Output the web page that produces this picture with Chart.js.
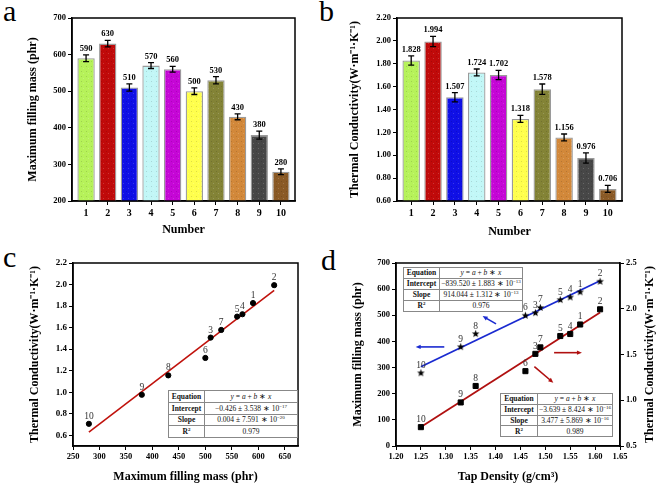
<!DOCTYPE html>
<html>
<head>
<meta charset="utf-8">
<script src="https://cdn.jsdelivr.net/npm/chart.js@4.4.1/dist/chart.umd.min.js"></script>
<style>
body { margin: 0; background: #fff; width: 661px; height: 486px; position: relative; overflow: hidden; font-family: "Liberation Serif", "Times New Roman", serif; }
canvas { position: absolute; }
.letter { position: absolute; font-size: 30px; line-height: 30px; color: #000; }
table.fit { position: absolute; border-collapse: collapse; background: #fff; table-layout: fixed; font-size: 7.5px; color: #111; }
table.fit td { border: 1px solid #888; padding: 0; text-align: center; white-space: nowrap; overflow: hidden; line-height: 9px; }
table.fit td.k { font-weight: bold; }
table.fit sup { font-size: 5px; vertical-align: 3px; line-height: 0; }
</style>
</head>
<body>
<div class="letter" style="left:3px;top:-4px">a</div>
<div class="letter" style="left:319px;top:-4px">b</div>
<div class="letter" style="left:3px;top:242px">c</div>
<div class="letter" style="left:321px;top:245px">d</div>

<canvas id="chartA" width="330" height="240" style="left:0;top:0"></canvas>
<canvas id="chartB" width="331" height="240" style="left:330px;top:0"></canvas>
<canvas id="chartC" width="330" height="246" style="left:0;top:240px"></canvas>
<canvas id="chartD" width="331" height="246" style="left:330px;top:240px"></canvas>

<table class="fit" style="left:168px;top:390px;width:130px">
  <colgroup><col style="width:36px"><col></colgroup>
  <tr style="height:11.8px"><td class="k">Equation</td><td><i>y</i> = <i>a</i> + <i>b</i> ∗ <i>x</i></td></tr>
  <tr style="height:11.8px"><td class="k">Intercept</td><td>−0.426 ± 3.538 ∗ 10<sup>−17</sup></td></tr>
  <tr style="height:11.8px"><td class="k">Slope</td><td>0.004 ± 7.591 ∗ 10<sup>−20</sup></td></tr>
  <tr style="height:11.8px"><td class="k">R<sup>2</sup></td><td>0.979</td></tr>
</table>
<table class="fit" style="left:403px;top:267px;width:120px">
  <colgroup><col style="width:36px"><col></colgroup>
  <tr style="height:10.9px"><td class="k">Equation</td><td><i>y</i> = <i>a</i> + <i>b</i> ∗ <i>x</i></td></tr>
  <tr style="height:10.9px"><td class="k">Intercept</td><td>−839.520 ± 1.883 ∗ 10<sup>−13</sup></td></tr>
  <tr style="height:10.9px"><td class="k">Slope</td><td>914.044 ± 1.312 ∗ 10<sup>−13</sup></td></tr>
  <tr style="height:10.9px"><td class="k">R<sup>2</sup></td><td>0.976</td></tr>
</table>
<table class="fit" style="left:500px;top:393px;width:113px">
  <colgroup><col style="width:37px"><col></colgroup>
  <tr style="height:10.8px"><td class="k">Equation</td><td><i>y</i> = <i>a</i> + <i>b</i> ∗ <i>x</i></td></tr>
  <tr style="height:10.8px"><td class="k">Intercept</td><td>−3.639 ± 8.424 ∗ 10<sup>−16</sup></td></tr>
  <tr style="height:10.8px"><td class="k">Slope</td><td>3.477 ± 5.869 ∗ 10<sup>−16</sup></td></tr>
  <tr style="height:10.8px"><td class="k">R<sup>2</sup></td><td>0.989</td></tr>
</table>

<script>
// sample numbers 1..10
const numbers = [1, 2, 3, 4, 5, 6, 7, 8, 9, 10];
const pointNames = ["1", "2", "3", "4", "5", "6", "7", "8", "9", "10"];
const fillMass = [590, 630, 510, 570, 560, 500, 530, 430, 380, 280];
const fillMassErr = [9, 9, 10, 8, 8, 9, 10, 8, 11, 8];
const conductivity = [1.828, 1.994, 1.507, 1.724, 1.702, 1.318, 1.578, 1.156, 0.976, 0.706];
const conductivityErr = [0.04, 0.045, 0.04, 0.03, 0.04, 0.03, 0.045, 0.03, 0.045, 0.03];
const tapDensity = [1.57, 1.61, 1.48, 1.55, 1.53, 1.46, 1.49, 1.36, 1.33, 1.25];
const barColors = ["#b6f25a", "#c00a0a", "#1010e6", "#c2f7f7", "#c506d6", "#ffff4d", "#838336", "#d2883a", "#474747", "#8a5a26"];

// tick labels
const massTicksA = [200, 300, 400, 500, 600, 700];
const condTicksB = [0.6, 0.8, 1.0, 1.2, 1.4, 1.6, 1.8, 2.0, 2.2];
const massTicksC = [250, 300, 350, 400, 450, 500, 550, 600, 650];
const condTicksC = [0.6, 0.8, 1.0, 1.2, 1.4, 1.6, 1.8, 2.0, 2.2];
const tapTicksD = [1.20, 1.25, 1.30, 1.35, 1.40, 1.45, 1.50, 1.55, 1.60, 1.65];
const massTicksD = [0, 100, 200, 300, 400, 500, 600, 700];
const condTicksD = [0.5, 1.0, 1.5, 2.0, 2.5];

// fitted lines, end points
const fitCX = [280, 630];
const fitCY = [0.628, 1.945];
const fitMassX = [1.25, 1.61];
const fitMassY = [303, 632];
const fitCondX = [1.25, 1.61];
const fitCondY = [0.707, 1.959];

const serif = '"Liberation Serif", "Times New Roman", serif';
const condTitle = "Thermal Conductivity(W·m⁻¹·K⁻¹)";

const makePattern = (color) => {
    const c = document.createElement("canvas");
    c.width = 5; c.height = 5;
    const g = c.getContext("2d");
    g.fillStyle = color;
    g.fillRect(0, 0, 5, 5);
    g.fillStyle = "rgba(0,0,0,0.13)";
    g.fillRect(1, 1, 1, 1);
    g.fillStyle = "rgba(255,255,255,0.18)";
    g.fillRect(3, 3, 1, 1);
    return g.createPattern(c, "repeat");
};

const starImage = (() => {
    const c = document.createElement("canvas");
    c.width = 9; c.height = 9;
    const g = c.getContext("2d");
    g.fillStyle = "#000";
    g.beginPath();
    for (let k = 0; k < 10; k++) {
        const r = k % 2 === 0 ? 4 : 1.7;
        const a = -Math.PI / 2 + k * Math.PI / 5;
        g.lineTo(4.5 + r * Math.cos(a), 4.8 + r * Math.sin(a));
    }
    g.closePath();
    g.fill();
    return c;
})();

const axis = (o) => ({
    type: "linear",
    position: o.position,
    min: o.min,
    max: o.max,
    offset: false,
    afterBuildTicks: (s) => { s.ticks = o.ticks.map(v => ({ value: v })); },
    afterFit: (s) => { if (s.isHorizontal()) s.height = o.size; else s.width = o.size; },
    ticks: {
        font: { family: serif, size: o.tickSize, weight: "bold" },
        color: "#000",
        padding: 2,
        autoSkip: false,
        maxRotation: 0,
        callback: o.fmt,
    },
    grid: { drawOnChartArea: false, tickLength: 4, color: "#000", lineWidth: 1, offset: false },
    border: { display: true, color: "#000", width: 1.5 },
    title: {
        display: !!o.title,
        text: o.title,
        font: { family: serif, size: 12, weight: "bold" },
        color: "#000",
        padding: o.titlePad || { top: 4, bottom: 4 },
    },
});

const frame = {
    id: "frame",
    afterDraw(chart) {
        const { ctx, chartArea: a } = chart;
        ctx.save();
        ctx.strokeStyle = "#000";
        ctx.lineWidth = 1.5;
        ctx.strokeRect(a.left, a.top, a.right - a.left, a.bottom - a.top);
        ctx.restore();
    },
};

const barExtras = (errs, fmt) => ({
    id: "barExtras",
    afterDatasetsDraw(chart) {
        const { ctx, scales: { x, y } } = chart;
        ctx.save();
        ctx.strokeStyle = "#000";
        ctx.fillStyle = "#000";
        ctx.lineWidth = 1.3;
        ctx.font = "bold 8.5px " + serif;
        ctx.textAlign = "center";
        ctx.textBaseline = "bottom";
        chart.data.datasets[0].data.forEach((p, i) => {
            const px = x.getPixelForValue(p.x);
            const t = y.getPixelForValue(p.y + errs[i]);
            const b = y.getPixelForValue(p.y - errs[i]);
            ctx.beginPath();
            ctx.moveTo(px, t); ctx.lineTo(px, b);
            ctx.moveTo(px - 3, t); ctx.lineTo(px + 3, t);
            ctx.moveTo(px - 3, b); ctx.lineTo(px + 3, b);
            ctx.stroke();
            ctx.fillText(fmt(p.y), px, t - 2);
        });
        ctx.restore();
    },
});

const pointLabels = {
    id: "pointLabels",
    afterDatasetsDraw(chart) {
        const { ctx } = chart;
        ctx.save();
        ctx.font = "9.5px " + serif;
        ctx.fillStyle = "#333";
        ctx.textAlign = "center";
        ctx.textBaseline = "alphabetic";
        chart.data.datasets.forEach((ds, di) => {
            if (!ds.pointText) return;
            chart.getDatasetMeta(di).data.forEach((el, i) => {
                ctx.fillText(ds.pointText[i], el.x, el.y - 5);
            });
        });
        ctx.restore();
    },
};

const barChart = (id, values, errs, yTicks, yMin, yMax, yFmt, valFmt, yTitle, pad, ySize, titleBottom) => {
    new Chart(document.getElementById(id), {
        type: "bar",
        data: {
            datasets: [{
                data: numbers.map((n, i) => ({ x: n, y: values[i] })),
                backgroundColor: barColors.map(makePattern),
                borderColor: "#9a9a9a",
                borderWidth: 1.3,
                barPercentage: 0.8,
                categoryPercentage: 1,
            }],
        },
        options: {
            responsive: false,
            animation: false,
            events: [],
            layout: { padding: pad },
            plugins: { legend: { display: false }, tooltip: { enabled: false } },
            scales: {
                x: axis({ position: "bottom", min: 0.35, max: 10.65, ticks: numbers, fmt: v => String(v), tickSize: 10, size: 39, title: "Number", titlePad: { top: 0, bottom: titleBottom } }),
                y: axis({ position: "left", min: yMin, max: yMax, ticks: yTicks, fmt: yFmt, tickSize: 8.5, size: ySize, title: yTitle }),
            },
        },
        plugins: [frame, barExtras(errs, valFmt)],
    });
};

barChart("chartA", fillMass, fillMassErr, massTicksA, 200, 700, v => String(v), v => String(v),
    "Maximum filling mass (phr)", { left: 22, right: 35, top: 18, bottom: 0 }, 50, 3);
barChart("chartB", conductivity, conductivityErr, condTicksB, 0.6, 2.2, v => v.toFixed(2), v => v.toFixed(3),
    condTitle, { left: 14, right: 39, top: 18, bottom: 0 }, 53, 1);

// c: conductivity vs filling mass
new Chart(document.getElementById("chartC"), {
    type: "scatter",
    data: {
        datasets: [
            {
                data: fillMass.map((m, i) => ({ x: m, y: conductivity[i] })),
                pointText: pointNames,
                backgroundColor: "#000",
                borderColor: "#000",
                pointRadius: 2.6,
                order: 0,
            },
            {
                type: "line",
                data: fitCX.map((x, i) => ({ x, y: fitCY[i] })),
                borderColor: "#c0120c",
                borderWidth: 1.6,
                pointRadius: 0,
                order: 1,
            },
        ],
    },
    options: {
        responsive: false,
        animation: false,
        events: [],
        layout: { padding: { left: 24, right: 32, top: 23, bottom: 0 } },
        plugins: { legend: { display: false }, tooltip: { enabled: false } },
        scales: {
            x: axis({ position: "bottom", min: 250, max: 675, ticks: massTicksC, fmt: v => String(v), tickSize: 8.5, size: 40, title: "Maximum filling mass (phr)", titlePad: { top: 0, bottom: 2 } }),
            y: axis({ position: "left", min: 0.5, max: 2.2, ticks: condTicksC, fmt: v => v.toFixed(1), tickSize: 9, size: 49, title: condTitle }),
        },
    },
    plugins: [frame, pointLabels],
});

// d: both vs tap density
const arrows = [
    { axis: "y", color: "#1a2ad0", from: [1.297, 379], to: [1.2395, 379] },
    { axis: "y", color: "#1a2ad0", from: [1.401, 467], to: [1.374, 497] },
    { axis: "y1", color: "#b01010", from: [1.5176, 1.52], to: [1.5735, 1.52] },
    { axis: "y1", color: "#b01010", from: [1.478, 1.367], to: [1.516, 1.192] },
];

const arrowPlugin = {
    id: "arrows",
    afterDatasetsDraw(chart) {
        const { ctx, scales } = chart;
        ctx.save();
        ctx.lineWidth = 1.6;
        arrows.forEach(a => {
            const x0 = scales.x.getPixelForValue(a.from[0]), y0 = scales[a.axis].getPixelForValue(a.from[1]);
            const x1 = scales.x.getPixelForValue(a.to[0]), y1 = scales[a.axis].getPixelForValue(a.to[1]);
            const ang = Math.atan2(y1 - y0, x1 - x0);
            ctx.strokeStyle = a.color;
            ctx.fillStyle = a.color;
            ctx.beginPath();
            ctx.moveTo(x0, y0);
            ctx.lineTo(x1 - 3 * Math.cos(ang), y1 - 3 * Math.sin(ang));
            ctx.stroke();
            ctx.beginPath();
            ctx.moveTo(x1, y1);
            ctx.lineTo(x1 - 5 * Math.cos(ang) + 2.2 * Math.sin(ang), y1 - 5 * Math.sin(ang) - 2.2 * Math.cos(ang));
            ctx.lineTo(x1 - 5 * Math.cos(ang) - 2.2 * Math.sin(ang), y1 - 5 * Math.sin(ang) + 2.2 * Math.cos(ang));
            ctx.closePath();
            ctx.fill();
        });
        // right-hand axis title, reading bottom to top
        const r = scales.y1;
        ctx.fillStyle = "#000";
        ctx.font = "bold 12px " + serif;
        ctx.textAlign = "center";
        ctx.textBaseline = "middle";
        ctx.translate(r.right - 11, (r.top + r.bottom) / 2);
        ctx.rotate(-Math.PI / 2);
        ctx.fillText(condTitle, 0, 0);
        ctx.restore();
    },
};

const rightAxis = axis({ position: "right", min: 0.5, max: 2.5, ticks: condTicksD, fmt: v => v.toFixed(1), tickSize: 8.5, size: 41 });
rightAxis.title = { display: false };

new Chart(document.getElementById("chartD"), {
    type: "scatter",
    data: {
        datasets: [
            {
                data: tapDensity.map((t, i) => ({ x: t, y: fillMass[i] })),
                yAxisID: "y",
                pointText: pointNames,
                pointStyle: starImage,
                order: 0,
            },
            {
                data: tapDensity.map((t, i) => ({ x: t, y: conductivity[i] })),
                yAxisID: "y1",
                pointText: pointNames,
                pointStyle: "rect",
                pointRadius: 3.6,
                backgroundColor: "#000",
                borderColor: "#000",
                order: 0,
            },
            {
                type: "line",
                data: fitMassX.map((x, i) => ({ x, y: fitMassY[i] })),
                yAxisID: "y",
                borderColor: "#1a2ad0",
                borderWidth: 1.8,
                pointRadius: 0,
                order: 1,
            },
            {
                type: "line",
                data: fitCondX.map((x, i) => ({ x, y: fitCondY[i] })),
                yAxisID: "y1",
                borderColor: "#b01010",
                borderWidth: 1.8,
                pointRadius: 0,
                order: 1,
            },
        ],
    },
    options: {
        responsive: false,
        animation: false,
        events: [],
        layout: { padding: { left: 17, right: 0, top: 23, bottom: 0 } },
        plugins: { legend: { display: false }, tooltip: { enabled: false } },
        scales: {
            x: axis({ position: "bottom", min: 1.2, max: 1.65, ticks: tapTicksD, fmt: v => v.toFixed(2), tickSize: 8.5, size: 40, title: "Tap Density (g/cm³)", titlePad: { top: 0, bottom: 2 } }),
            y: axis({ position: "left", min: 0, max: 700, ticks: massTicksD, fmt: v => String(v), tickSize: 8.5, size: 49, title: "Maximum filling mass (phr)" }),
            y1: rightAxis,
        },
    },
    plugins: [frame, pointLabels, arrowPlugin],
});
</script>
</body>
</html>
